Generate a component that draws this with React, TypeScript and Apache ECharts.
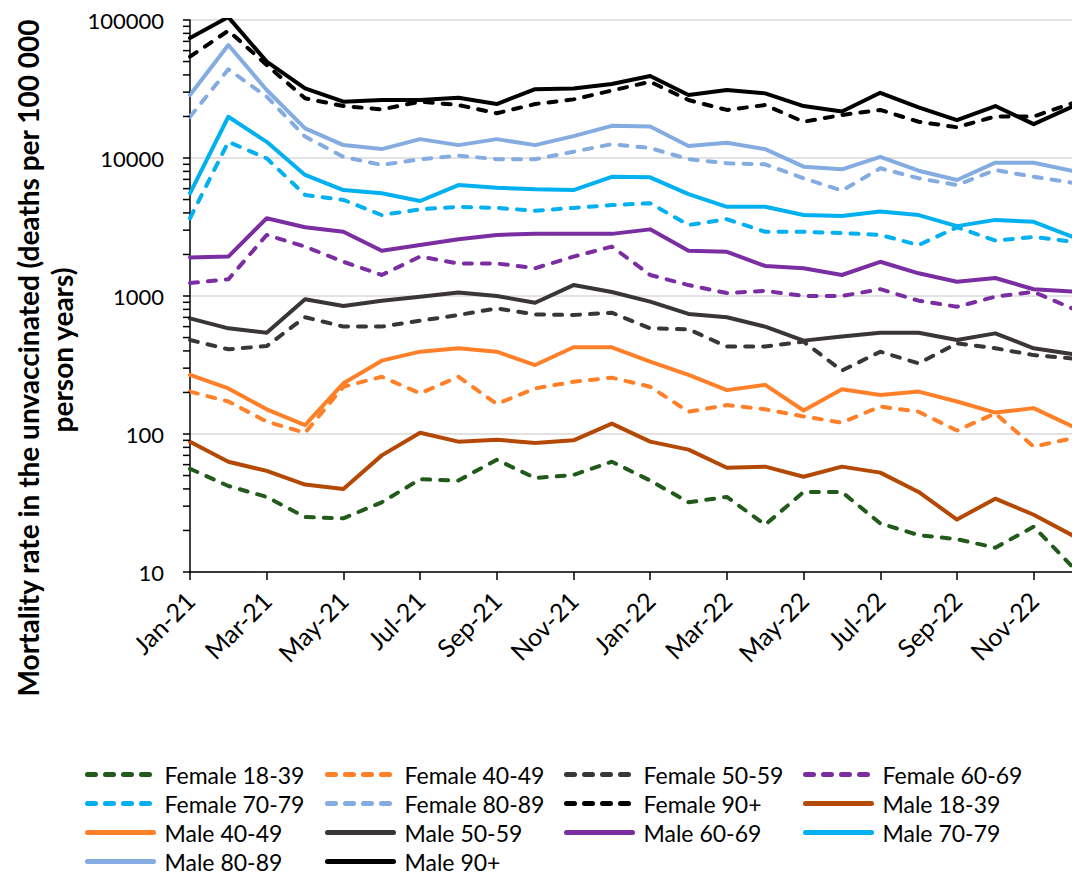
import React, { useEffect, useRef } from "react";
import * as echarts from "echarts";

const months = [
  "Jan-21", "Feb-21", "Mar-21", "Apr-21", "May-21", "Jun-21", "Jul-21", "Aug-21", "Sep-21", "Oct-21", "Nov-21", "Dec-21",
  "Jan-22", "Feb-22", "Mar-22", "Apr-22", "May-22", "Jun-22", "Jul-22", "Aug-22", "Sep-22", "Oct-22", "Nov-22", "Dec-22",
];

const female18_39 = [56, 42, 35, 25, 24.5, 32, 47, 46, 65, 48, 50.5, 63, 46, 32, 35, 22, 38, 38, 22.5, 18.5, 17.3, 15, 21.3, 11];
const female40_49 = [203, 172, 123, 102, 220, 260, 197, 260, 165, 214, 239, 256, 220, 145, 162, 151, 134, 121, 158, 145, 106, 141, 81, 93];
const female50_59 = [480, 411, 434, 702, 600, 600, 662, 728, 814, 735, 728, 757, 583, 574, 430, 430, 467, 288, 395, 325, 454, 418, 373, 353];
const female60_69 = [1240, 1320, 2770, 2280, 1770, 1420, 1930, 1720, 1720, 1590, 1930, 2280, 1420, 1200, 1050, 1090, 1000, 1000, 1120, 925, 836, 988, 1070, 814];
const female70_79 = [3660, 13100, 9950, 5400, 4970, 3860, 4250, 4430, 4350, 4150, 4350, 4560, 4700, 3270, 3600, 2920, 2920, 2860, 2770, 2340, 3150, 2520, 2680, 2480];
const female80_89 = [19900, 43900, 27800, 14300, 10200, 8900, 9800, 10400, 9800, 9800, 11100, 12600, 11800, 9800, 9170, 9000, 7130, 5800, 8420, 7130, 6370, 8180, 7310, 6620];
const female90 = [54200, 83700, 47200, 27100, 23800, 22500, 25600, 24200, 21100, 24600, 26600, 30800, 35700, 26300, 22300, 24200, 18300, 20500, 22300, 18300, 16700, 20000, 20000, 24900];
const male18_39 = [88, 63, 54, 43, 40, 70, 102, 88, 91, 86, 90, 119, 88, 77, 57, 58, 49, 58, 52.5, 38, 24, 34, 26, 18.5];
const male40_49 = [268, 214, 151, 116, 233, 340, 395, 418, 395, 316, 425, 425, 334, 268, 208, 227, 148, 211, 192, 203, 172, 143, 154, 114];
const male50_59 = [689, 583, 542, 946, 846, 925, 988, 1060, 1000, 893, 1200, 1070, 910, 741, 702, 600, 475, 508, 542, 542, 480, 536, 418, 380];
const male60_69 = [1900, 1930, 3660, 3150, 2920, 2130, 2340, 2580, 2770, 2820, 2820, 2820, 3040, 2130, 2090, 1650, 1590, 1420, 1770, 1460, 1270, 1350, 1120, 1080];
const male70_79 = [5550, 19900, 13100, 7540, 5860, 5550, 4880, 6370, 6090, 5930, 5860, 7310, 7240, 5480, 4430, 4430, 3860, 3800, 4090, 3860, 3210, 3560, 3450, 2690];
const male80_89 = [28600, 65900, 31100, 16400, 12400, 11600, 13700, 12400, 13700, 12400, 14400, 17100, 16900, 12200, 12900, 11600, 8650, 8280, 10200, 8090, 6930, 9250, 9250, 8090];
const male90 = [74000, 105000, 49900, 32000, 25600, 26300, 26300, 27300, 24600, 31500, 31900, 34400, 39300, 28600, 31100, 29400, 23800, 21700, 29700, 23300, 18800, 23800, 17600, 23500];

const yTickValues = [
  10, 20, 30, 40, 50, 60, 70, 80, 90, 100, 200, 300, 400, 500, 600, 700, 800, 900,
  1000, 2000, 3000, 4000, 5000, 6000, 7000, 8000, 9000, 10000, 20000, 30000, 40000,
  50000, 60000, 70000, 80000, 90000, 100000,
];

const seriesDefs = [
  { name: "Female 18-39", data: female18_39, color: "#215a1b", dashed: true },
  { name: "Female 40-49", data: female40_49, color: "#ff8028", dashed: true },
  { name: "Female 50-59", data: female50_59, color: "#3a3536", dashed: true },
  { name: "Female 60-69", data: female60_69, color: "#7a2ea2", dashed: true },
  { name: "Female 70-79", data: female70_79, color: "#00b0f0", dashed: true },
  { name: "Female 80-89", data: female80_89, color: "#85ace0", dashed: true },
  { name: "Female 90+", data: female90, color: "#000000", dashed: true },
  { name: "Male 18-39", data: male18_39, color: "#b44805", dashed: false },
  { name: "Male 40-49", data: male40_49, color: "#ff8028", dashed: false },
  { name: "Male 50-59", data: male50_59, color: "#3a3536", dashed: false },
  { name: "Male 60-69", data: male60_69, color: "#7a2ea2", dashed: false },
  { name: "Male 70-79", data: male70_79, color: "#00b0f0", dashed: false },
  { name: "Male 80-89", data: male80_89, color: "#85ace0", dashed: false },
  { name: "Male 90+", data: male90, color: "#000000", dashed: false },
];

const legendColumns = [
  ["Female 18-39", "Female 70-79", "Male 40-49", "Male 80-89"],
  ["Female 40-49", "Female 80-89", "Male 50-59", "Male 90+"],
  ["Female 50-59", "Female 90+", "Male 60-69"],
  ["Female 60-69", "Male 18-39", "Male 70-79"],
];

const FONT = "Lato";

export default function App() {
  const ref = useRef<HTMLDivElement>(null);

  useEffect(() => {
    if (!ref.current) return;
    const chart = echarts.init(ref.current, null, { renderer: "svg" });
    const legendLefts = [85, 325, 564, 803];

    const lineSeries = seriesDefs.map((s) => ({
      name: s.name,
      type: "line",
      data: s.data,
      symbol: "none",
      showSymbol: false,
      clip: true,
      color: s.color,
      lineStyle: {
        color: s.color,
        width: 4,
        type: s.dashed ? [8, 10] : "solid",
        cap: "round",
        join: "round",
      },
    }));

    const tickSeries = {
      name: "yticks",
      type: "custom",
      data: yTickValues.map((v) => [0, v]),
      silent: true,
      clip: false,
      z: 5,
      renderItem: (params: any, api: any) => {
        const pt = api.coord([0, api.value(1)]);
        const x0 = params.coordSys.x;
        return {
          type: "line",
          shape: { x1: x0 - 7, y1: pt[1], x2: x0, y2: pt[1] },
          style: { stroke: "#000", lineWidth: 1.5 },
        };
      },
    };

    const option: any = {
      animation: false,
      backgroundColor: "#ffffff",
      grid: { left: 190, right: 0, top: 20, bottom: 303, containLabel: false },
      xAxis: {
        type: "category",
        data: months,
        boundaryGap: false,
        axisLine: { show: true, lineStyle: { color: "#000", width: 1.5 } },
        axisTick: { show: true, interval: 1, length: 8, lineStyle: { color: "#000", width: 1.5 } },
        axisLabel: {
          interval: 1,
          rotate: 45,
          margin: 24,
          color: "#000",
          fontFamily: FONT,
          fontSize: 25,
        },
        splitLine: { show: false },
      },
      yAxis: {
        type: "log",
        logBase: 10,
        min: 10,
        max: 100000,
        axisLine: { show: true, lineStyle: { color: "#000", width: 1.5 } },
        axisTick: { show: false },
        axisLabel: {
          color: "#000",
          fontFamily: FONT,
          fontSize: 22,
          margin: 26,
          formatter: (v: number) => String(Math.round(v)),
        },
        splitLine: { show: true, lineStyle: { color: "#d9d9d9", width: 1.5 } },
      },
      legend: legendColumns.map((col, i) => ({
        orient: "vertical",
        left: legendLefts[i],
        top: 763,
        height: 150,
        padding: 0,
        data: col,
        selectedMode: false,
        itemWidth: 66,
        itemHeight: 14,
        itemGap: 6,
        itemStyle: { color: "rgba(0,0,0,0)", borderColor: "rgba(0,0,0,0)", borderWidth: 0, opacity: 0 },
        lineStyle: { width: 5, cap: "round" },
        textStyle: {
          color: "#000",
          fontFamily: FONT,
          fontSize: 23,
          lineHeight: 23,
          padding: [0, 0, 0, 6],
        },
      })),
      graphic: [
        {
          type: "text",
          x: 28,
          y: 358,
          rotation: Math.PI / 2,
          style: {
            text: "Mortality rate in the unvaccinated (deaths per 100 000",
            font: `bold 28px ${FONT}`,
            fill: "#000",
            textAlign: "center",
            textVerticalAlign: "middle",
          },
        },
        {
          type: "text",
          x: 62,
          y: 350,
          rotation: Math.PI / 2,
          style: {
            text: "person years)",
            font: `bold 28px ${FONT}`,
            fill: "#000",
            textAlign: "center",
            textVerticalAlign: "middle",
          },
        },
      ],
      series: [...lineSeries, tickSeries],
    };

    chart.setOption(option);
    return () => chart.dispose();
  }, []);

  return (
    <div
      ref={ref}
      style={{ position: "absolute", left: 0, top: 0, width: 1072, height: 875, background: "#fff" }}
    />
  );
}
